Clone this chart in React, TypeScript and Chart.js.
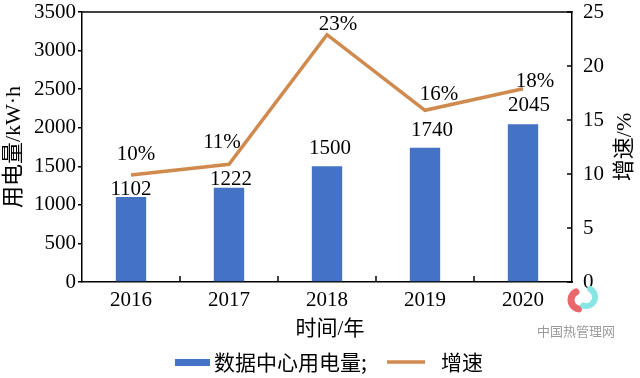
import { useEffect, useRef } from 'react';
import { Chart, registerables } from 'chart.js';

Chart.register(...registerables);

const years = ['2016', '2017', '2018', '2019', '2020'];
const power = [1102, 1222, 1500, 1740, 2045];
const powerLabels = ['1102', '1222', '1500', '1740', '2045'];
const growth = [9.9, 10.9, 22.9, 15.9, 17.9];
const growthLabels = ['10%', '11%', '23%', '16%', '18%'];

const SERIF = "'Liberation Serif', 'Times New Roman', 'Noto Sans CJK SC', serif";
const MIXED = "'Liberation Serif', 'Noto Sans CJK SC', serif";
const CJK = "'Noto Sans CJK SC', sans-serif";
const BAR_COLOR = '#4472C4';
const LINE_COLOR = '#D08A4E';

// label placement offsets (style, not data)
const barLabelOffsets = [
  [0, 2], [2, 3], [3, 12], [7, 12], [6, 13],
];
const lineLabelOffsets = [
  [5, 15], [-7, 16], [11, 5], [14, 10], [12, 2],
];

const decorPlugin = {
  id: 'decor',
  afterDraw(chart: any) {
    const { ctx, chartArea } = chart;
    const { left, right, top, bottom } = chartArea;
    const x = chart.scales.x;
    const y1 = chart.scales.y1;
    ctx.save();
    ctx.strokeStyle = '#000';
    ctx.lineWidth = 1.5;
    // top frame line
    ctx.beginPath();
    ctx.moveTo(left - 0.75, top);
    ctx.lineTo(right + 0.75, top);
    ctx.stroke();
    // inward x ticks at category boundaries
    for (let i = 0; i < years.length - 1; i++) {
      const px = (x.getPixelForValue(i) + x.getPixelForValue(i + 1)) / 2;
      ctx.beginPath();
      ctx.moveTo(px, bottom);
      ctx.lineTo(px, bottom - 6);
      ctx.stroke();
    }
    // inward right ticks
    y1.ticks.forEach((t: any) => {
      const py = y1.getPixelForValue(t.value);
      ctx.beginPath();
      ctx.moveTo(right, py);
      ctx.lineTo(right - 5, py);
      ctx.stroke();
    });

    // data labels
    ctx.fillStyle = '#000';
    ctx.font = `21px ${SERIF}`;
    ctx.textAlign = 'center';
    ctx.textBaseline = 'alphabetic';
    const barMeta = chart.getDatasetMeta(1);
    barMeta.data.forEach((el: any, i: number) => {
      const [dx, gap] = barLabelOffsets[i];
      ctx.fillText(powerLabels[i], el.x + dx, el.y - gap);
    });
    const lineMeta = chart.getDatasetMeta(0);
    lineMeta.data.forEach((el: any, i: number) => {
      const [dx, gap] = lineLabelOffsets[i];
      ctx.fillText(growthLabels[i], el.x + dx, el.y - gap);
    });

    // axis titles
    const midY = (top + bottom) / 2;
    ctx.font = `22px ${MIXED}`;
    ctx.textBaseline = 'middle';
    ctx.save();
    ctx.translate(14, midY);
    ctx.rotate(-Math.PI / 2);
    ctx.fillText('用电量/kW·h', 0, 0);
    ctx.restore();
    ctx.save();
    ctx.translate(625, midY);
    ctx.rotate(-Math.PI / 2);
    ctx.fillText('增速/%', 0, 0);
    ctx.restore();
    ctx.font = `21px ${MIXED}`;
    ctx.fillText('时间/年', (left + right) / 2 + 3, 329);

    // legend
    const ly = 362;
    ctx.fillStyle = chart.data.datasets[1].backgroundColor;
    ctx.fillRect(175, ly - 3, 35, 7);
    ctx.fillStyle = '#000';
    ctx.textAlign = 'left';
    ctx.font = `21px ${CJK}`;
    ctx.fillText(chart.data.datasets[1].label + ';', 214, ly);
    ctx.strokeStyle = chart.data.datasets[0].borderColor;
    ctx.lineWidth = 3.5;
    ctx.beginPath();
    ctx.moveTo(387, ly);
    ctx.lineTo(425, ly);
    ctx.stroke();
    ctx.fillText(chart.data.datasets[0].label, 441, ly);

    // watermark
    ctx.lineCap = 'round';
    ctx.strokeStyle = '#e8686c';
    ctx.lineWidth = 7;
    ctx.beginPath();
    ctx.arc(580, 300, 9, Math.PI * 0.55, Math.PI * 1.35);
    ctx.stroke();
    ctx.strokeStyle = '#86e6e4';
    ctx.lineWidth = 6;
    ctx.beginPath();
    ctx.arc(586, 297, 9, -Math.PI * 0.35, Math.PI * 0.6);
    ctx.stroke();
    ctx.fillStyle = '#9a9a9a';
    ctx.font = `13px ${CJK}`;
    ctx.textAlign = 'center';
    ctx.fillText('中国热管理网', 576, 331);
    ctx.restore();
  },
};

export default function App() {
  const ref = useRef<HTMLCanvasElement>(null);
  useEffect(() => {
    document.body.style.margin = '0';
    const chart = new Chart(ref.current as HTMLCanvasElement, {
      type: 'bar',
      data: {
        labels: years,
        datasets: [
          {
            type: 'line',
            label: '增速',
            data: growth,
            yAxisID: 'y1',
            borderColor: LINE_COLOR,
            backgroundColor: LINE_COLOR,
            borderWidth: 3.5,
            pointRadius: 0,
            tension: 0,
            order: 1,
          } as any,
          {
            type: 'bar',
            label: '数据中心用电量',
            data: power,
            yAxisID: 'y',
            backgroundColor: BAR_COLOR,
            borderWidth: 0,
            barPercentage: 0.31,
            categoryPercentage: 1,
            order: 2,
          },
        ],
      },
      options: {
        responsive: false,
        animation: false,
        layout: { autoPadding: false, padding: { top: 12, left: 0, right: 0, bottom: 30 } },
        plugins: {
          legend: { display: false },
          tooltip: { enabled: false },
        },
        scales: {
          x: {
            grid: { display: false, drawTicks: false },
            border: { display: true, color: '#000', width: 1.5 },
            ticks: { color: '#000', font: { family: SERIF, size: 21 }, padding: 6 },
            afterFit: (s: any) => { s.height = 66; s.paddingLeft = 0; s.paddingRight = 0; },
          },
          y: {
            position: 'left',
            min: 0,
            max: 3500,
            grid: { display: true, drawOnChartArea: false, drawTicks: true, tickLength: 4, color: '#000', lineWidth: 1.5 },
            border: { display: true, color: '#000', width: 1.5 },
            ticks: {
              stepSize: 500,
              color: '#000',
              font: { family: SERIF, size: 21 },
              padding: 2,
              callback: (v: any) => String(v),
            },
            afterFit: (s: any) => { s.width = 82; s.paddingTop = 0; s.paddingBottom = 0; },
          },
          y1: {
            position: 'right',
            min: 0,
            max: 25,
            grid: { display: false, drawTicks: false },
            border: { display: true, color: '#000', width: 1.5 },
            ticks: {
              stepSize: 5,
              color: '#000',
              font: { family: SERIF, size: 21 },
              padding: 11,
              callback: (v: any) => String(v),
            },
            afterFit: (s: any) => { s.width = 68; s.paddingTop = 0; s.paddingBottom = 0; },
          },
        },
      },
      plugins: [decorPlugin],
    });
    return () => chart.destroy();
  }, []);
  return (
    <div style={{ width: 640, height: 378 }}>
      <canvas ref={ref} width={640} height={378} style={{ display: 'block' }} />
    </div>
  );
}
